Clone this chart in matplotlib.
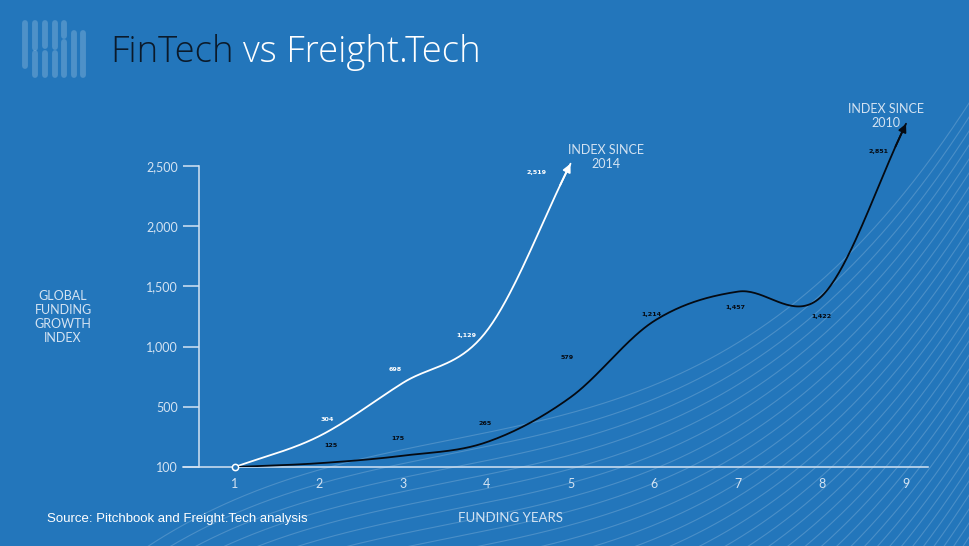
import numpy as np
import matplotlib
matplotlib.use('Agg')
import matplotlib.pyplot as plt
from matplotlib.lines import Line2D

BG = '#2376bb'
LIGHT = '#d4e3f2'
W, H = 970, 546

# data
years = [1, 2, 3, 4, 5, 6, 7, 8, 9]
fintech = [100, 304, 698, 1129, 2519]
freight = [100, 125, 175, 265, 579, 1214, 1457, 1422, 2851]
ytick_vals = [100, 500, 1000, 1500, 2000, 2500]
ytick_labels = ['100', '500', '1,000', '1,500', '2,000', '2,500']

# label offsets in pixels (layout only)
fin_offsets = [None, (8, 17), (-8, 13), (-20, -4), (-34, -9)]
fr_offsets = [None, (12, 18), (-5, 17), (-2, 19), (-3, 40), (-3, 6),
              (-3, -16), (-1, -21), (-28, -28)]


def fwd(v):
    v = np.asarray(v, dtype=float)
    return np.where(v < 500, (v - 100) * 1.25, v)


def inv(t):
    t = np.asarray(t, dtype=float)
    return np.where(t < 500, t / 1.25 + 100, t)


def catmull(xs, ys, n=40):
    xs = np.asarray(xs, float)
    ys = np.asarray(ys, float)
    px = np.concatenate([[2 * xs[0] - xs[1]], xs, [2 * xs[-1] - xs[-2]]])
    py = np.concatenate([[2 * ys[0] - ys[1]], ys, [2 * ys[-1] - ys[-2]]])
    outx, outy = [], []
    t = np.linspace(0, 1, n, endpoint=False)
    for i in range(1, len(px) - 2):
        for p, out in ((px, outx), (py, outy)):
            p0, p1, p2, p3 = p[i - 1], p[i], p[i + 1], p[i + 2]
            out.extend(0.5 * (2 * p1 + (-p0 + p2) * t
                              + (2 * p0 - 5 * p1 + 4 * p2 - p3) * t ** 2
                              + (-p0 + 3 * p1 - 3 * p2 + p3) * t ** 3))
    outx.append(xs[-1])
    outy.append(ys[-1])
    return np.array(outx), np.array(outy)


fig = plt.figure(figsize=(W / 100, H / 100), dpi=100, facecolor=BG)


def fx(px):
    return px / W


def fy(py):
    return 1 - py / H


# background swoosh lines (decoration)
bx = np.linspace(0, W, 500)
rise = 0.2 * (bx - 450) + 5e-6 / 3 * (bx - 450) ** 3
for k in range(45):
    by = 440 + 14 * k - rise
    fig.add_artist(Line2D(fx(bx), fy(by), color='white', alpha=0.18, lw=0.8,
                          transform=fig.transFigure, zorder=0))

# logo
logo = [(25, 23, 66), (25, 71, 71), (35, 23, 48), (35, 53, 75),
        (45, 23, 46), (45, 53, 75), (55, 23, 47), (55, 53, 75),
        (64, 23, 36), (64, 42, 75), (74, 25, 25), (74, 33, 75),
        (83, 25, 25), (83, 33, 75)]
for x, y0, y1 in logo:
    fig.add_artist(Line2D([fx(x), fx(x)], [fy(y0), fy(y1) - 0.0001],
                          color='white', alpha=0.2, lw=4.2,
                          solid_capstyle='round', transform=fig.transFigure))

# title
fig.text(fx(110), fy(62), 'FinTech', color='#0b1a2a', fontsize=26.3,
         family='Open Sans', fontweight='light', va='baseline')
fig.text(fx(243), fy(62), 'vs Freight.Tech', color='white',
         fontsize=26.3, family='Open Sans', fontweight='light',
         va='baseline')

ax = fig.add_axes([fx(183), fy(467), (928 - 183) / W, (467 - 100) / H])
ax.set_facecolor('none')
ax.set_yscale('function', functions=(fwd, inv))
ax.set_xlim(0.380, 9.262)
ax.set_ylim(100, 3048)

for s in ['top', 'right']:
    ax.spines[s].set_visible(False)
ax.spines['left'].set_position(('data', 0.571))
ax.spines['left'].set_bounds(100, 2500)
for s in ['left', 'bottom']:
    ax.spines[s].set_color(LIGHT)
    ax.spines[s].set_linewidth(1.1)
ax.set_yticks(ytick_vals)
ax.set_yticklabels(ytick_labels)
ax.set_xticks(years)
ax.tick_params(axis='y', length=11.5, width=1.1, color=LIGHT, pad=3.5,
               labelsize=9, labelcolor=LIGHT)
ax.tick_params(axis='x', length=0, pad=8, labelsize=9, labelcolor=LIGHT)
for lab in ax.get_xticklabels() + ax.get_yticklabels():
    lab.set_family('Lato')

# curves
for vals, col, offs in ((fintech, 'white', fin_offsets),
                        (freight, '#050a12', fr_offsets)):
    xs = years[:len(vals)]
    cx, cy = catmull(xs, fwd(vals))
    ax.plot(cx, inv(cy), color=col, lw=1.3, zorder=3, solid_capstyle='round')
    ax.annotate('', xy=(cx[-1], inv(cy[-1])), xytext=(cx[-6], inv(cy[-6])),
                arrowprops=dict(arrowstyle='-|>', color=col, lw=1.3,
                                mutation_scale=12, shrinkA=0, shrinkB=0),
                zorder=4)
    for x, v, o in zip(xs, vals, offs):
        if o is None:
            continue
        ax.annotate(f'{v:,}', (x, v), xytext=o, textcoords='offset pixels',
                    ha='center', va='center', fontsize=4.6, color=col,
                    fontweight='bold', family='DejaVu Sans')

ax.plot([1], [100], 'o', ms=4.5, mfc=BG, mec='white', mew=1.1, zorder=5,
        clip_on=False)

# annotations and labels
fig.text(fx(606), fy(157), 'INDEX SINCE\n2014', color=LIGHT, fontsize=9,
         family='Lato', ha='center', va='center', linespacing=1.15)
fig.text(fx(886), fy(116), 'INDEX SINCE\n2010', color=LIGHT, fontsize=9,
         family='Lato', ha='center', va='center', linespacing=1.15)
fig.text(fx(63), fy(317), 'GLOBAL\nFUNDING\nGROWTH\nINDEX', color=LIGHT,
         fontsize=9, family='Lato', ha='center', va='center',
         linespacing=1.2)
fig.text(fx(511), fy(518), 'FUNDING YEARS', color=LIGHT, fontsize=9.5,
         family='Lato', ha='center', va='center')
fig.text(fx(47), fy(519), 'Source: Pitchbook and Freight.Tech analysis',
         color='white', fontsize=9.5, family='Liberation Sans',
         ha='left', va='center')

fig.savefig('out.png', dpi=100, facecolor=BG)
